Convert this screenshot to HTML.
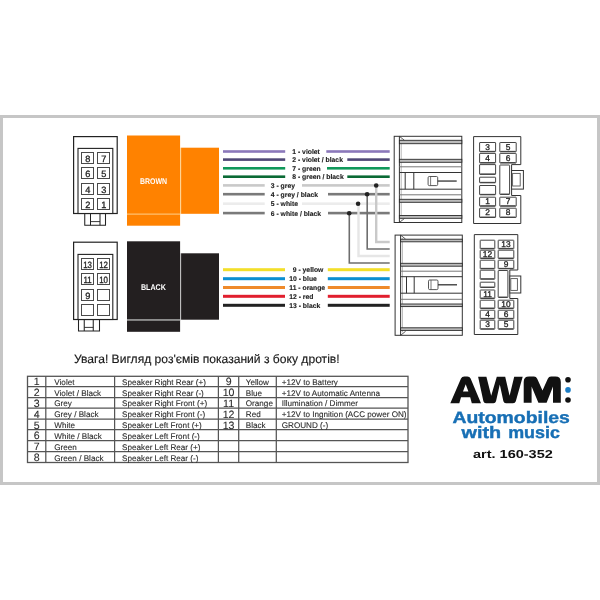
<!DOCTYPE html>
<html><head><meta charset="utf-8"><style>
html,body{margin:0;padding:0;background:#fff;}
body{width:600px;height:600px;overflow:hidden;}
svg{display:block;will-change:transform;text-rendering:geometricPrecision;font-family:"Liberation Sans", sans-serif;}
</style></head><body>
<svg width="600" height="600" viewBox="0 0 600 600">
<rect x="1.5" y="116.5" width="597" height="367" fill="#fff" stroke="#c6c6c6" stroke-width="3"/>
<rect x="73.6" y="136.6" width="43.6" height="76.9" fill="#fff" stroke="#222" stroke-width="1.2"/><rect x="78" y="148.4" width="34.8" height="65.1" fill="#fff" stroke="#222" stroke-width="1.1"/><rect x="81.5" y="152.5" width="12.00" height="11.00" rx="0" fill="#fff" stroke="#4a4a4a" stroke-width="1.0"/><text x="0" y="0" transform="translate(87.90 161.51) scale(1.0 1)" font-size="9.2" text-anchor="middle" fill="#222" stroke="#222" stroke-width="0.3">8</text><rect x="97.5" y="152.5" width="12.00" height="11.00" rx="0" fill="#fff" stroke="#4a4a4a" stroke-width="1.0"/><text x="0" y="0" transform="translate(103.90 161.51) scale(1.0 1)" font-size="9.2" text-anchor="middle" fill="#222" stroke="#222" stroke-width="0.3">7</text><rect x="81.5" y="167.5" width="12.00" height="11.00" rx="0" fill="#fff" stroke="#4a4a4a" stroke-width="1.0"/><text x="0" y="0" transform="translate(87.90 176.51) scale(1.0 1)" font-size="9.2" text-anchor="middle" fill="#222" stroke="#222" stroke-width="0.3">6</text><rect x="97.5" y="167.5" width="12.00" height="11.00" rx="0" fill="#fff" stroke="#4a4a4a" stroke-width="1.0"/><text x="0" y="0" transform="translate(103.90 176.51) scale(1.0 1)" font-size="9.2" text-anchor="middle" fill="#222" stroke="#222" stroke-width="0.3">5</text><rect x="81.5" y="183.5" width="12.00" height="11.00" rx="0" fill="#fff" stroke="#4a4a4a" stroke-width="1.0"/><text x="0" y="0" transform="translate(87.90 192.51) scale(1.0 1)" font-size="9.2" text-anchor="middle" fill="#222" stroke="#222" stroke-width="0.3">4</text><rect x="97.5" y="183.5" width="12.00" height="11.00" rx="0" fill="#fff" stroke="#4a4a4a" stroke-width="1.0"/><text x="0" y="0" transform="translate(103.90 192.51) scale(1.0 1)" font-size="9.2" text-anchor="middle" fill="#222" stroke="#222" stroke-width="0.3">3</text><rect x="81.5" y="198.5" width="12.00" height="11.00" rx="0" fill="#fff" stroke="#4a4a4a" stroke-width="1.0"/><text x="0" y="0" transform="translate(87.90 207.51) scale(1.0 1)" font-size="9.2" text-anchor="middle" fill="#222" stroke="#222" stroke-width="0.3">2</text><rect x="97.5" y="198.5" width="12.00" height="11.00" rx="0" fill="#fff" stroke="#4a4a4a" stroke-width="1.0"/><text x="0" y="0" transform="translate(103.90 207.51) scale(1.0 1)" font-size="9.2" text-anchor="middle" fill="#222" stroke="#222" stroke-width="0.3">1</text><path d="M84.75,213.5 V225.25 H105.5 V213.5" fill="none" stroke="#222" stroke-width="1.05"/><line x1="90.5" y1="213.5" x2="90.5" y2="225.25" stroke="#222" stroke-width="1.05"/><line x1="100.0" y1="213.5" x2="100.0" y2="225.25" stroke="#222" stroke-width="1.05"/><line x1="90.5" y1="221.6" x2="100.0" y2="221.6" stroke="#222" stroke-width="0.9"/>
<rect x="73.6" y="242.2" width="43.6" height="77.30000000000001" fill="#fff" stroke="#222" stroke-width="1.2"/><rect x="78" y="254.4" width="34.8" height="65.1" fill="#fff" stroke="#222" stroke-width="1.1"/><rect x="81.5" y="258.5" width="12.00" height="11.00" rx="0" fill="#fff" stroke="#4a4a4a" stroke-width="1.0"/><text x="0" y="0" transform="translate(87.60 267.51) scale(0.86 1)" font-size="9.2" text-anchor="middle" fill="#222" stroke="#222" stroke-width="0.3">13</text><rect x="97.5" y="258.5" width="12.00" height="11.00" rx="0" fill="#fff" stroke="#4a4a4a" stroke-width="1.0"/><text x="0" y="0" transform="translate(103.60 267.51) scale(0.86 1)" font-size="9.2" text-anchor="middle" fill="#222" stroke="#222" stroke-width="0.3">12</text><rect x="81.5" y="273.5" width="12.00" height="11.00" rx="0" fill="#fff" stroke="#4a4a4a" stroke-width="1.0"/><text x="0" y="0" transform="translate(87.60 282.51) scale(0.86 1)" font-size="9.2" text-anchor="middle" fill="#222" stroke="#222" stroke-width="0.3">11</text><rect x="97.5" y="273.5" width="12.00" height="11.00" rx="0" fill="#fff" stroke="#4a4a4a" stroke-width="1.0"/><text x="0" y="0" transform="translate(103.60 282.51) scale(0.86 1)" font-size="9.2" text-anchor="middle" fill="#222" stroke="#222" stroke-width="0.3">10</text><rect x="81.5" y="289.5" width="12.00" height="11.00" rx="0" fill="#fff" stroke="#4a4a4a" stroke-width="1.0"/><text x="0" y="0" transform="translate(87.90 298.51) scale(1.0 1)" font-size="9.2" text-anchor="middle" fill="#222" stroke="#222" stroke-width="0.3">9</text><rect x="97.5" y="289.5" width="12.00" height="11.00" rx="0" fill="#fff" stroke="#4a4a4a" stroke-width="1.0"/><rect x="81.5" y="304.5" width="12.00" height="11.00" rx="0" fill="#fff" stroke="#4a4a4a" stroke-width="1.0"/><rect x="97.5" y="304.5" width="12.00" height="11.00" rx="0" fill="#fff" stroke="#4a4a4a" stroke-width="1.0"/><path d="M78.5,319.25 V331.0 H99.5 V319.25" fill="none" stroke="#222" stroke-width="1.05"/><line x1="84.25" y1="319.25" x2="84.25" y2="331.0" stroke="#222" stroke-width="1.05"/><line x1="93.25" y1="319.25" x2="93.25" y2="331.0" stroke="#222" stroke-width="1.05"/><line x1="84.25" y1="327.4" x2="93.25" y2="327.4" stroke="#222" stroke-width="0.9"/>
<rect x="127" y="135.5" width="53.1" height="90.2" fill="#ff8200"/>
<rect x="127" y="213.6" width="53.1" height="1.0" fill="#ffd08a"/>
<rect x="180.1" y="147.7" width="1.0" height="66.1" fill="#ffd08a"/>
<rect x="181.1" y="147.7" width="37.9" height="66.1" fill="#ff8200"/>
<text x="0" y="0" transform="translate(153.6 184.2) scale(0.84 1)" font-size="8.3" font-weight="bold" text-anchor="middle" fill="#fff">BROWN</text>
<rect x="127" y="241.3" width="53.1" height="90.5" fill="#231f20"/>
<rect x="127" y="319.2" width="53.1" height="1.5" fill="#a8a8a8"/>
<rect x="180.1" y="253.3" width="1.0" height="66.4" fill="#b8b8b8"/>
<rect x="181.1" y="253.3" width="37.9" height="66.4" fill="#231f20"/>
<text x="0" y="0" transform="translate(153.4 289.6) scale(0.86 1)" font-size="8.3" font-weight="bold" text-anchor="middle" fill="#fff">BLACK</text>
<rect x="223" y="150.20" width="62.20" height="2.6" fill="#8b78ba"/><rect x="326.3" y="150.20" width="63.40" height="2.6" fill="#8b78ba"/>
<text x="292.3" y="154.00" font-size="6.8" font-weight="bold" fill="#1e1e1e" stroke="#1e1e1e" stroke-width="0.12">1 - violet</text>
<rect x="223" y="158.30" width="62.20" height="2.6" fill="#4f4876"/><rect x="347.3" y="158.30" width="42.40" height="2.6" fill="#4f4876"/>
<text x="292.3" y="162.10" font-size="6.8" font-weight="bold" fill="#1e1e1e" stroke="#1e1e1e" stroke-width="0.12">2 - violet / black</text>
<rect x="223" y="167.00" width="62.20" height="2.6" fill="#10985a"/><rect x="327.0" y="167.00" width="62.70" height="2.6" fill="#10985a"/>
<text x="292.3" y="170.80" font-size="6.8" font-weight="bold" fill="#1e1e1e" stroke="#1e1e1e" stroke-width="0.12">7 - green</text>
<rect x="223" y="175.40" width="62.20" height="2.6" fill="#0a6a35"/><rect x="347.3" y="175.40" width="42.40" height="2.6" fill="#0a6a35"/>
<text x="292.3" y="179.20" font-size="6.8" font-weight="bold" fill="#1e1e1e" stroke="#1e1e1e" stroke-width="0.12">8 - green / black</text>
<rect x="223" y="184.10" width="41.70" height="2.6" fill="#c9c9c9"/><rect x="302.0" y="184.10" width="87.70" height="2.6" fill="#c9c9c9"/>
<text x="270.8" y="187.90" font-size="6.8" font-weight="bold" fill="#1e1e1e" stroke="#1e1e1e" stroke-width="0.12">3 - grey</text>
<rect x="223" y="192.90" width="41.70" height="2.6" fill="#7a7a7a"/><rect x="328.0" y="192.90" width="61.70" height="2.6" fill="#7a7a7a"/>
<text x="270.8" y="196.70" font-size="6.8" font-weight="bold" fill="#1e1e1e" stroke="#1e1e1e" stroke-width="0.12">4 - grey / black</text>
<rect x="223" y="202.40" width="41.70" height="2.6" fill="#ececec"/><rect x="302.0" y="202.40" width="87.70" height="2.6" fill="#ececec"/>
<text x="270.8" y="206.20" font-size="6.8" font-weight="bold" fill="#1e1e1e" stroke="#1e1e1e" stroke-width="0.12">5 - white</text>
<rect x="223" y="211.80" width="41.70" height="2.6" fill="#7a7a7a"/><rect x="328.0" y="211.80" width="61.70" height="2.6" fill="#7a7a7a"/>
<text x="270.8" y="215.60" font-size="6.8" font-weight="bold" fill="#1e1e1e" stroke="#1e1e1e" stroke-width="0.12">6 - white / black</text>
<rect x="223" y="268.20" width="62.00" height="3.0" fill="#f3df2a"/><rect x="327.8" y="268.20" width="61.90" height="3.0" fill="#f3df2a"/>
<text x="292.75" y="272.20" font-size="6.8" font-weight="bold" fill="#1e1e1e" stroke="#1e1e1e" stroke-width="0.12">9 - yellow</text>
<rect x="223" y="277.20" width="62.00" height="3.0" fill="#0b8fd2"/><rect x="327.8" y="277.20" width="61.90" height="3.0" fill="#0b8fd2"/>
<text x="289.25" y="281.20" font-size="6.8" font-weight="bold" fill="#1e1e1e" stroke="#1e1e1e" stroke-width="0.12">10 - blue</text>
<rect x="223" y="286.00" width="62.00" height="3.0" fill="#ef8a2a"/><rect x="327.8" y="286.00" width="61.90" height="3.0" fill="#ef8a2a"/>
<text x="289.25" y="290.00" font-size="6.8" font-weight="bold" fill="#1e1e1e" stroke="#1e1e1e" stroke-width="0.12">11 - orange</text>
<rect x="223" y="294.80" width="62.00" height="3.0" fill="#e11f2e"/><rect x="327.8" y="294.80" width="61.90" height="3.0" fill="#e11f2e"/>
<text x="289.25" y="298.80" font-size="6.8" font-weight="bold" fill="#1e1e1e" stroke="#1e1e1e" stroke-width="0.12">12 - red</text>
<rect x="223" y="303.80" width="62.00" height="3.0" fill="#222222"/><rect x="327.8" y="303.80" width="61.90" height="3.0" fill="#222222"/>
<text x="289.25" y="307.80" font-size="6.8" font-weight="bold" fill="#1e1e1e" stroke="#1e1e1e" stroke-width="0.12">13 - black</text>
<path d="M376.2,185.4 V242 H389.7" fill="none" stroke="#c9c9c9" stroke-width="2.4"/>
<path d="M367.2,194.2 V249 H389.7" fill="none" stroke="#6e6e6e" stroke-width="1.6"/>
<path d="M358.5,203.7 V256 H389.7" fill="none" stroke="#e6e6e6" stroke-width="2.4"/>
<path d="M349.3,213.1 V263 H389.7" fill="none" stroke="#6e6e6e" stroke-width="1.6"/>
<circle cx="376.2" cy="185.5" r="2.3" fill="#222"/>
<circle cx="367.1" cy="194.2" r="2.3" fill="#222"/>
<circle cx="358.1" cy="203.8" r="2.3" fill="#222"/>
<circle cx="349.2" cy="213.2" r="2.3" fill="#222"/>
<rect x="394.2" y="136.3" width="67.60" height="86.20" fill="#fff" stroke="#333" stroke-width="1"/><line x1="399.4" y1="136.3" x2="399.4" y2="222.5" stroke="#333" stroke-width="1"/><line x1="401.2" y1="139.3" x2="401.2" y2="219.5" stroke="#999" stroke-width="0.7"/><line x1="399.4" y1="136.3" x2="404.4" y2="140.3" stroke="#333" stroke-width="0.8"/><line x1="399.4" y1="222.5" x2="404.4" y2="218.5" stroke="#333" stroke-width="0.8"/><rect x="399.4" y="140.3" width="62.40" height="3.40" fill="#bcbcbc" stroke="#2a2a2a" stroke-width="0.9"/><rect x="399.4" y="159.3" width="62.40" height="3.00" fill="#bcbcbc" stroke="#2a2a2a" stroke-width="0.9"/><rect x="399.4" y="199.3" width="62.40" height="3.00" fill="#bcbcbc" stroke="#2a2a2a" stroke-width="0.9"/><rect x="399.4" y="215.5" width="62.40" height="2.80" fill="#bcbcbc" stroke="#2a2a2a" stroke-width="0.9"/><line x1="399.4" y1="172.5" x2="461.8" y2="172.5" stroke="#333" stroke-width="1"/><line x1="399.4" y1="189.2" x2="461.8" y2="189.2" stroke="#333" stroke-width="1"/><line x1="399.4" y1="166.8" x2="461.8" y2="166.8" stroke="#777" stroke-width="1"/><line x1="399.4" y1="194.8" x2="461.8" y2="194.8" stroke="#777" stroke-width="1"/><line x1="405.2" y1="172.5" x2="405.2" y2="189.2" stroke="#333" stroke-width="1"/><line x1="413.8" y1="172.5" x2="413.8" y2="189.2" stroke="#333" stroke-width="1"/><rect x="428.1" y="176.5" width="9.60" height="9.10" rx="1.2" fill="#fff" stroke="#444" stroke-width="0.9"/><line x1="430.6" y1="176.5" x2="430.6" y2="185.6" stroke="#555" stroke-width="0.8"/><line x1="437.7" y1="181.05" x2="456.7" y2="181.05" stroke="#333" stroke-width="1.3"/>
<rect x="395.1" y="235.1" width="67.20" height="100.20" fill="#fff" stroke="#333" stroke-width="1"/><line x1="400.6" y1="235.1" x2="400.6" y2="335.3" stroke="#333" stroke-width="1"/><line x1="402.40000000000003" y1="238.1" x2="402.40000000000003" y2="332.3" stroke="#999" stroke-width="0.7"/><line x1="400.6" y1="235.1" x2="405.6" y2="239.1" stroke="#333" stroke-width="0.8"/><line x1="400.6" y1="335.3" x2="405.6" y2="331.3" stroke="#333" stroke-width="0.8"/><rect x="400.6" y="239.2" width="61.70" height="2.60" fill="#bcbcbc" stroke="#2a2a2a" stroke-width="0.9"/><rect x="400.6" y="263.3" width="61.70" height="2.90" fill="#bcbcbc" stroke="#2a2a2a" stroke-width="0.9"/><rect x="400.6" y="304.0" width="61.70" height="2.60" fill="#bcbcbc" stroke="#2a2a2a" stroke-width="0.9"/><rect x="400.6" y="327.8" width="61.70" height="2.60" fill="#bcbcbc" stroke="#2a2a2a" stroke-width="0.9"/><line x1="400.6" y1="276.7" x2="462.3" y2="276.7" stroke="#333" stroke-width="1"/><line x1="400.6" y1="293.2" x2="462.3" y2="293.2" stroke="#333" stroke-width="1"/><line x1="400.6" y1="271.2" x2="462.3" y2="271.2" stroke="#777" stroke-width="1"/><line x1="400.6" y1="299.3" x2="462.3" y2="299.3" stroke="#777" stroke-width="1"/><line x1="406.5" y1="276.7" x2="406.5" y2="293.2" stroke="#333" stroke-width="1"/><line x1="414.2" y1="276.7" x2="414.2" y2="293.2" stroke="#333" stroke-width="1"/><rect x="428.5" y="280.0" width="9.50" height="9.60" rx="1.2" fill="#fff" stroke="#444" stroke-width="0.9"/><line x1="431.0" y1="280.0" x2="431.0" y2="289.6" stroke="#555" stroke-width="0.8"/><line x1="438.0" y1="284.80" x2="457.0" y2="284.80" stroke="#333" stroke-width="1.3"/>
<path d="M473.6,136.6 H520.8 V164.6 H511.6 V195.5 H520.8 V223.5 H473.6 Z" fill="#fff" stroke="#333" stroke-width="1"/><rect x="511.6" y="170.5" width="11.8" height="18.6" fill="#fff" stroke="#333" stroke-width="1"/><rect x="512.6" y="173.4" width="7.6" height="12.6" fill="#fff" stroke="#555" stroke-width="0.9"/><rect x="479.6" y="142.5" width="16.00" height="9.30" rx="0.4" fill="#fff" stroke="#444" stroke-width="1.0"/><line x1="480.20" y1="151.40" x2="495.00" y2="151.40" stroke="#444" stroke-width="1.1"/><text x="0" y="0" transform="translate(487.60 149.77) scale(1.0 1)" font-size="8.4" text-anchor="middle" fill="#222" stroke="#222" stroke-width="0.3">3</text><rect x="499.8" y="142.5" width="16.40" height="9.30" rx="0.4" fill="#fff" stroke="#444" stroke-width="1.0"/><line x1="500.40" y1="151.40" x2="515.60" y2="151.40" stroke="#444" stroke-width="1.1"/><text x="0" y="0" transform="translate(508.00 149.77) scale(1.0 1)" font-size="8.4" text-anchor="middle" fill="#222" stroke="#222" stroke-width="0.3">5</text><rect x="479.6" y="153.4" width="16.00" height="9.60" rx="0.4" fill="#fff" stroke="#444" stroke-width="1.0"/><line x1="480.20" y1="162.60" x2="495.00" y2="162.60" stroke="#444" stroke-width="1.1"/><text x="0" y="0" transform="translate(487.60 160.82) scale(1.0 1)" font-size="8.4" text-anchor="middle" fill="#222" stroke="#222" stroke-width="0.3">4</text><rect x="499.8" y="153.4" width="16.40" height="9.60" rx="0.4" fill="#fff" stroke="#444" stroke-width="1.0"/><line x1="500.40" y1="162.60" x2="515.60" y2="162.60" stroke="#444" stroke-width="1.1"/><text x="0" y="0" transform="translate(508.00 160.82) scale(1.0 1)" font-size="8.4" text-anchor="middle" fill="#222" stroke="#222" stroke-width="0.3">6</text><rect x="479.6" y="197.2" width="16.00" height="9.00" rx="0.4" fill="#fff" stroke="#444" stroke-width="1.0"/><line x1="480.20" y1="205.80" x2="495.00" y2="205.80" stroke="#444" stroke-width="1.1"/><text x="0" y="0" transform="translate(487.60 204.32) scale(1.0 1)" font-size="8.4" text-anchor="middle" fill="#222" stroke="#222" stroke-width="0.3">1</text><rect x="499.8" y="197.2" width="16.40" height="9.00" rx="0.4" fill="#fff" stroke="#444" stroke-width="1.0"/><line x1="500.40" y1="205.80" x2="515.60" y2="205.80" stroke="#444" stroke-width="1.1"/><text x="0" y="0" transform="translate(508.00 204.32) scale(1.0 1)" font-size="8.4" text-anchor="middle" fill="#222" stroke="#222" stroke-width="0.3">7</text><rect x="479.6" y="208.2" width="16.00" height="9.30" rx="0.4" fill="#fff" stroke="#444" stroke-width="1.0"/><line x1="480.20" y1="217.10" x2="495.00" y2="217.10" stroke="#444" stroke-width="1.1"/><text x="0" y="0" transform="translate(487.60 215.47) scale(1.0 1)" font-size="8.4" text-anchor="middle" fill="#222" stroke="#222" stroke-width="0.3">2</text><rect x="499.8" y="208.2" width="16.40" height="9.30" rx="0.4" fill="#fff" stroke="#444" stroke-width="1.0"/><line x1="500.40" y1="217.10" x2="515.60" y2="217.10" stroke="#444" stroke-width="1.1"/><text x="0" y="0" transform="translate(508.00 215.47) scale(1.0 1)" font-size="8.4" text-anchor="middle" fill="#222" stroke="#222" stroke-width="0.3">8</text><rect x="479.6" y="164.6" width="16.00" height="9.80" rx="0.4" fill="#fff" stroke="#444" stroke-width="1.0"/><line x1="480.20" y1="174.00" x2="495.00" y2="174.00" stroke="#444" stroke-width="1.1"/><rect x="479.6" y="177.2" width="16.00" height="5.60" rx="0.4" fill="#fff" stroke="#444" stroke-width="1.0"/><line x1="480.20" y1="182.40" x2="495.00" y2="182.40" stroke="#444" stroke-width="1.1"/><rect x="479.6" y="185.5" width="16.00" height="9.30" rx="0.4" fill="#fff" stroke="#444" stroke-width="1.0"/><line x1="480.20" y1="194.40" x2="495.00" y2="194.40" stroke="#444" stroke-width="1.1"/><rect x="499.8" y="165.0" width="9.80" height="29.50" rx="0.4" fill="#fff" stroke="#444" stroke-width="1.0"/><line x1="500.40" y1="194.10" x2="509.00" y2="194.10" stroke="#444" stroke-width="1.1"/>
<path d="M474.3,234.6 H517.8 V270.0 H509.8 V298.5 H517.8 V334.5 H474.3 Z" fill="#fff" stroke="#333" stroke-width="1"/><rect x="509.8" y="276.0" width="11.0" height="17.0" fill="#fff" stroke="#333" stroke-width="1"/><rect x="510.8" y="278.6" width="6.6" height="11.8" fill="#fff" stroke="#555" stroke-width="0.9"/><rect x="480.2" y="240.2" width="14.60" height="8.60" rx="0.4" fill="#fff" stroke="#444" stroke-width="1.0"/><line x1="480.80" y1="248.40" x2="494.20" y2="248.40" stroke="#444" stroke-width="1.1"/><rect x="498.2" y="240.2" width="15.60" height="8.60" rx="0.4" fill="#fff" stroke="#444" stroke-width="1.0"/><line x1="498.80" y1="248.40" x2="513.20" y2="248.40" stroke="#444" stroke-width="1.1"/><text x="0" y="0" transform="translate(506.00 247.12) scale(1.0 1)" font-size="8.4" text-anchor="middle" fill="#222" stroke="#222" stroke-width="0.3">13</text><rect x="480.2" y="250.2" width="14.60" height="8.30" rx="0.4" fill="#fff" stroke="#444" stroke-width="1.0"/><line x1="480.80" y1="258.10" x2="494.20" y2="258.10" stroke="#444" stroke-width="1.1"/><text x="0" y="0" transform="translate(487.50 256.97) scale(1.0 1)" font-size="8.4" text-anchor="middle" fill="#222" stroke="#222" stroke-width="0.3">12</text><rect x="498.2" y="250.2" width="15.60" height="8.30" rx="0.4" fill="#fff" stroke="#444" stroke-width="1.0"/><line x1="498.80" y1="258.10" x2="513.20" y2="258.10" stroke="#444" stroke-width="1.1"/><rect x="480.2" y="260.2" width="14.60" height="8.60" rx="0.4" fill="#fff" stroke="#444" stroke-width="1.0"/><line x1="480.80" y1="268.40" x2="494.20" y2="268.40" stroke="#444" stroke-width="1.1"/><rect x="498.2" y="260.2" width="15.60" height="8.60" rx="0.4" fill="#fff" stroke="#444" stroke-width="1.0"/><line x1="498.80" y1="268.40" x2="513.20" y2="268.40" stroke="#444" stroke-width="1.1"/><text x="0" y="0" transform="translate(506.00 267.12) scale(1.0 1)" font-size="8.4" text-anchor="middle" fill="#222" stroke="#222" stroke-width="0.3">9</text><rect x="480.2" y="300.2" width="14.60" height="8.30" rx="0.4" fill="#fff" stroke="#444" stroke-width="1.0"/><line x1="480.80" y1="308.10" x2="494.20" y2="308.10" stroke="#444" stroke-width="1.1"/><rect x="498.2" y="300.2" width="15.60" height="8.30" rx="0.4" fill="#fff" stroke="#444" stroke-width="1.0"/><line x1="498.80" y1="308.10" x2="513.20" y2="308.10" stroke="#444" stroke-width="1.1"/><text x="0" y="0" transform="translate(506.00 306.97) scale(1.0 1)" font-size="8.4" text-anchor="middle" fill="#222" stroke="#222" stroke-width="0.3">10</text><rect x="480.2" y="310.2" width="14.60" height="8.60" rx="0.4" fill="#fff" stroke="#444" stroke-width="1.0"/><line x1="480.80" y1="318.40" x2="494.20" y2="318.40" stroke="#444" stroke-width="1.1"/><text x="0" y="0" transform="translate(487.50 317.12) scale(1.0 1)" font-size="8.4" text-anchor="middle" fill="#222" stroke="#222" stroke-width="0.3">4</text><rect x="498.2" y="310.2" width="15.60" height="8.60" rx="0.4" fill="#fff" stroke="#444" stroke-width="1.0"/><line x1="498.80" y1="318.40" x2="513.20" y2="318.40" stroke="#444" stroke-width="1.1"/><text x="0" y="0" transform="translate(506.00 317.12) scale(1.0 1)" font-size="8.4" text-anchor="middle" fill="#222" stroke="#222" stroke-width="0.3">6</text><rect x="480.2" y="320.2" width="14.60" height="9.00" rx="0.4" fill="#fff" stroke="#444" stroke-width="1.0"/><line x1="480.80" y1="328.80" x2="494.20" y2="328.80" stroke="#444" stroke-width="1.1"/><text x="0" y="0" transform="translate(487.50 327.32) scale(1.0 1)" font-size="8.4" text-anchor="middle" fill="#222" stroke="#222" stroke-width="0.3">3</text><rect x="498.2" y="320.2" width="15.60" height="9.00" rx="0.4" fill="#fff" stroke="#444" stroke-width="1.0"/><line x1="498.80" y1="328.80" x2="513.20" y2="328.80" stroke="#444" stroke-width="1.1"/><text x="0" y="0" transform="translate(506.00 327.32) scale(1.0 1)" font-size="8.4" text-anchor="middle" fill="#222" stroke="#222" stroke-width="0.3">5</text><rect x="480.2" y="270.2" width="14.60" height="9.00" rx="0.4" fill="#fff" stroke="#444" stroke-width="1.0"/><line x1="480.80" y1="278.80" x2="494.20" y2="278.80" stroke="#444" stroke-width="1.1"/><rect x="480.2" y="282.2" width="14.60" height="5.30" rx="0.4" fill="#fff" stroke="#444" stroke-width="1.0"/><line x1="480.80" y1="287.10" x2="494.20" y2="287.10" stroke="#444" stroke-width="1.1"/><rect x="480.2" y="290.0" width="14.60" height="8.50" rx="0.4" fill="#fff" stroke="#444" stroke-width="1.0"/><line x1="480.80" y1="298.10" x2="494.20" y2="298.10" stroke="#444" stroke-width="1.1"/><text x="0" y="0" transform="translate(487.50 296.87) scale(1.0 1)" font-size="8.4" text-anchor="middle" fill="#222" stroke="#222" stroke-width="0.3">11</text><rect x="498.2" y="270.5" width="9.70" height="27.00" rx="0.4" fill="#fff" stroke="#444" stroke-width="1.0"/><line x1="498.80" y1="297.10" x2="507.30" y2="297.10" stroke="#444" stroke-width="1.1"/>
<text x="74" y="363" font-size="12.1" fill="#1a1a1a" stroke="#1a1a1a" stroke-width="0.15">Увага! Вигляд роз'ємів показаний з боку дротів!</text>
<rect x="27.5" y="376.3" width="380.5" height="86.20" fill="none" stroke="#555" stroke-width="1.3"/><line x1="27.5" y1="386.5" x2="408" y2="386.5" stroke="#555" stroke-width="1.25"/><line x1="27.5" y1="397.5" x2="408" y2="397.5" stroke="#555" stroke-width="1.25"/><line x1="27.5" y1="408.0" x2="408" y2="408.0" stroke="#555" stroke-width="1.25"/><line x1="27.5" y1="419.0" x2="408" y2="419.0" stroke="#555" stroke-width="1.25"/><line x1="27.5" y1="429.7" x2="408" y2="429.7" stroke="#555" stroke-width="1.25"/><line x1="27.5" y1="440.6" x2="408" y2="440.6" stroke="#555" stroke-width="1.25"/><line x1="27.5" y1="451.6" x2="408" y2="451.6" stroke="#555" stroke-width="1.25"/><line x1="45.8" y1="376.3" x2="45.8" y2="462.5" stroke="#555" stroke-width="1.25"/><line x1="114.6" y1="376.3" x2="114.6" y2="462.5" stroke="#555" stroke-width="1.25"/><line x1="218.4" y1="376.3" x2="218.4" y2="462.5" stroke="#555" stroke-width="1.25"/><line x1="238.7" y1="376.3" x2="238.7" y2="462.5" stroke="#555" stroke-width="1.25"/><line x1="276.3" y1="376.3" x2="276.3" y2="462.5" stroke="#555" stroke-width="1.25"/><text x="36.7" y="385.30" text-anchor="middle" font-size="10.6" fill="#2a2a2a" stroke="#2a2a2a" stroke-width="0.08">1</text><text x="54.3" y="384.80" font-size="8.15" fill="#2a2a2a" stroke="#2a2a2a" stroke-width="0.1">Violet</text><text x="122.1" y="384.80" font-size="8.15" fill="#2a2a2a" stroke="#2a2a2a" stroke-width="0.1">Speaker Right Rear (+)</text><text x="36.7" y="396.30" text-anchor="middle" font-size="10.6" fill="#2a2a2a" stroke="#2a2a2a" stroke-width="0.08">2</text><text x="54.3" y="395.80" font-size="8.15" fill="#2a2a2a" stroke="#2a2a2a" stroke-width="0.1">Violet / Black</text><text x="122.1" y="395.80" font-size="8.15" fill="#2a2a2a" stroke="#2a2a2a" stroke-width="0.1">Speaker Right Rear (-)</text><text x="36.7" y="406.80" text-anchor="middle" font-size="10.6" fill="#2a2a2a" stroke="#2a2a2a" stroke-width="0.08">3</text><text x="54.3" y="406.30" font-size="8.15" fill="#2a2a2a" stroke="#2a2a2a" stroke-width="0.1">Grey</text><text x="122.1" y="406.30" font-size="8.15" fill="#2a2a2a" stroke="#2a2a2a" stroke-width="0.1">Speaker Right Front (+)</text><text x="36.7" y="417.80" text-anchor="middle" font-size="10.6" fill="#2a2a2a" stroke="#2a2a2a" stroke-width="0.08">4</text><text x="54.3" y="417.30" font-size="8.15" fill="#2a2a2a" stroke="#2a2a2a" stroke-width="0.1">Grey / Black</text><text x="122.1" y="417.30" font-size="8.15" fill="#2a2a2a" stroke="#2a2a2a" stroke-width="0.1">Speaker Right Front (-)</text><text x="36.7" y="428.50" text-anchor="middle" font-size="10.6" fill="#2a2a2a" stroke="#2a2a2a" stroke-width="0.08">5</text><text x="54.3" y="428.00" font-size="8.15" fill="#2a2a2a" stroke="#2a2a2a" stroke-width="0.1">White</text><text x="122.1" y="428.00" font-size="8.15" fill="#2a2a2a" stroke="#2a2a2a" stroke-width="0.1">Speaker Left Front (+)</text><text x="36.7" y="439.40" text-anchor="middle" font-size="10.6" fill="#2a2a2a" stroke="#2a2a2a" stroke-width="0.08">6</text><text x="54.3" y="438.90" font-size="8.15" fill="#2a2a2a" stroke="#2a2a2a" stroke-width="0.1">White / Black</text><text x="122.1" y="438.90" font-size="8.15" fill="#2a2a2a" stroke="#2a2a2a" stroke-width="0.1">Speaker Left Front (-)</text><text x="36.7" y="450.40" text-anchor="middle" font-size="10.6" fill="#2a2a2a" stroke="#2a2a2a" stroke-width="0.08">7</text><text x="54.3" y="449.90" font-size="8.15" fill="#2a2a2a" stroke="#2a2a2a" stroke-width="0.1">Green</text><text x="122.1" y="449.90" font-size="8.15" fill="#2a2a2a" stroke="#2a2a2a" stroke-width="0.1">Speaker Left Rear (+)</text><text x="36.7" y="461.30" text-anchor="middle" font-size="10.6" fill="#2a2a2a" stroke="#2a2a2a" stroke-width="0.08">8</text><text x="54.3" y="460.80" font-size="8.15" fill="#2a2a2a" stroke="#2a2a2a" stroke-width="0.1">Green / Black</text><text x="122.1" y="460.80" font-size="8.15" fill="#2a2a2a" stroke="#2a2a2a" stroke-width="0.1">Speaker Left Rear (-)</text><text x="228.6" y="385.30" text-anchor="middle" font-size="10.6" fill="#2a2a2a" stroke="#2a2a2a" stroke-width="0.08">9</text><text x="245.8" y="384.80" font-size="8.15" fill="#2a2a2a" stroke="#2a2a2a" stroke-width="0.1">Yellow</text><text x="281.7" y="384.80" font-size="8.15" fill="#2a2a2a" stroke="#2a2a2a" stroke-width="0.1">+12V to Battery</text><text x="228.6" y="396.30" text-anchor="middle" font-size="10.6" fill="#2a2a2a" stroke="#2a2a2a" stroke-width="0.08">10</text><text x="245.8" y="395.80" font-size="8.15" fill="#2a2a2a" stroke="#2a2a2a" stroke-width="0.1">Blue</text><text x="281.7" y="395.80" font-size="8.15" fill="#2a2a2a" stroke="#2a2a2a" stroke-width="0.1">+12V to Automatic Antenna</text><text x="228.6" y="406.80" text-anchor="middle" font-size="10.6" fill="#2a2a2a" stroke="#2a2a2a" stroke-width="0.08">11</text><text x="245.8" y="406.30" font-size="8.15" fill="#2a2a2a" stroke="#2a2a2a" stroke-width="0.1">Orange</text><text x="281.7" y="406.30" font-size="8.15" fill="#2a2a2a" stroke="#2a2a2a" stroke-width="0.1">Illumination / Dimmer</text><text x="228.6" y="417.80" text-anchor="middle" font-size="10.6" fill="#2a2a2a" stroke="#2a2a2a" stroke-width="0.08">12</text><text x="245.8" y="417.30" font-size="8.15" fill="#2a2a2a" stroke="#2a2a2a" stroke-width="0.1">Red</text><text x="281.7" y="417.30" font-size="8.15" fill="#2a2a2a" stroke="#2a2a2a" stroke-width="0.1">+12V to Ingnition (ACC power ON)</text><text x="228.6" y="428.50" text-anchor="middle" font-size="10.6" fill="#2a2a2a" stroke="#2a2a2a" stroke-width="0.08">13</text><text x="245.8" y="428.00" font-size="8.15" fill="#2a2a2a" stroke="#2a2a2a" stroke-width="0.1">Black</text><text x="281.7" y="428.00" font-size="8.15" fill="#2a2a2a" stroke="#2a2a2a" stroke-width="0.1">GROUND (-)</text>
<path d="M450.3,403.2 L461.0,378.6 Q461.9,376.6 464.3,376.6 L467.3,376.6 Q469.7,376.6 470.6,378.6 L481.0,403.2 L471.8,403.2 L470.2,397.2 L461.0,397.2 L459.3,403.2 Z M463.0,391.6 L468.4,391.6 L465.7,384.3 Z" fill="#111" fill-rule="evenodd"/><path d="M478.1,376.8 L486.4,376.8 L491.2,395.8 L496.8,376.8 L505.2,376.8 L509.6,395.8 L514.2,376.8 L522.7,376.8 L515.8,401.2 Q515.2,403.3 513.0,403.3 L506.0,403.3 Q504.0,403.3 503.4,401.3 L499.8,384.6 L496.0,401.3 Q495.4,403.3 493.4,403.3 L486.0,403.3 Q484.0,403.3 483.4,401.3 Z" fill="#111"/><path d="M523.7,402.7 L523.7,382.0 Q523.7,376.6 529.2,376.6 L534.0,376.6 Q536.2,376.6 537.2,378.8 L542.5,390.6 L547.8,378.8 Q548.8,376.6 551.0,376.6 L555.4,376.6 Q560.8,376.6 560.8,382.0 L560.8,402.7 L553.0,402.7 L553.0,386.5 L546.6,402.7 L538.4,402.7 L531.6,386.5 L531.6,402.7 Z" fill="#111"/><circle cx="568.0" cy="379.7" r="2.8" fill="#111"/><circle cx="568.0" cy="389.9" r="2.8" fill="#1b7cc4"/><circle cx="568.0" cy="400.0" r="2.8" fill="#111"/>
<text x="0" y="0" font-size="16.5" font-weight="bold" fill="#176fb5" stroke="#176fb5" stroke-width="0.4" transform="translate(452.4 422.6) scale(1.176 1)">Automobiles</text>
<text x="0" y="0" font-size="16.5" font-weight="bold" fill="#176fb5" stroke="#176fb5" stroke-width="0.4" transform="translate(461.6 438.0) scale(1.2 1)">with</text>
<text x="0" y="0" font-size="16.5" font-weight="bold" fill="#176fb5" stroke="#176fb5" stroke-width="0.4" transform="translate(508.2 438.0) scale(1.085 1)">music</text>
<text x="0" y="0" font-size="11.6" font-weight="bold" fill="#111" transform="translate(473.0 457.8) scale(1.25 1)">art. 160-352</text>
</svg>
</body></html>
